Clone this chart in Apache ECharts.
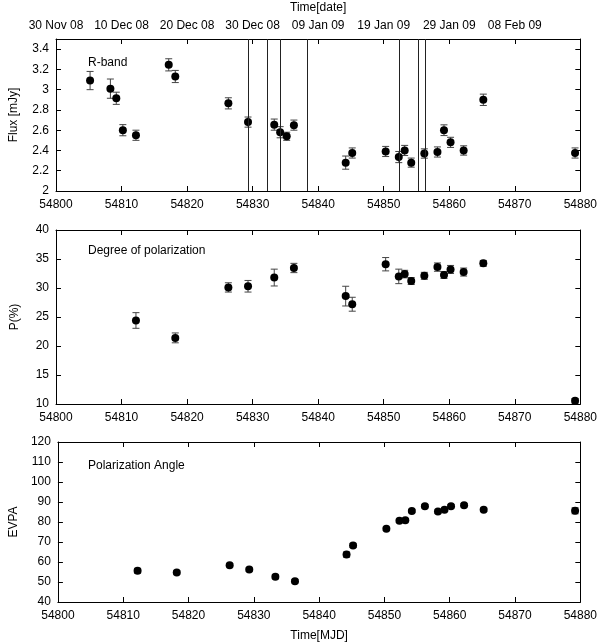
<!DOCTYPE html>
<html>
<head>
<meta charset="utf-8">
<script src="https://cdn.jsdelivr.net/npm/echarts@6/dist/echarts.min.js"></script>
<style>html,body{margin:0;padding:0;background:#fff}#c{width:600px;height:643px}</style>
</head>
<body>
<div id="c"></div>
<script>
// ---- data ----
const fluxMJD = [54805.2,54808.3,54809.2,54810.2,54812.2,54817.2,54818.2,54826.3,54829.3,54833.3,54834.2,54835.2,54836.3,54844.2,54845.2,54850.3,54852.3,54853.2,54854.2,54856.2,54858.2,54859.2,54860.2,54862.2,54865.2,54879.2];
const fluxVal = [3.09,3.01,2.915,2.60,2.55,3.245,3.13,2.865,2.68,2.655,2.58,2.54,2.65,2.28,2.375,2.39,2.335,2.40,2.28,2.37,2.385,2.60,2.48,2.40,2.90,2.375];
const fluxErr = [0.09,0.095,0.06,0.055,0.05,0.06,0.06,0.055,0.05,0.055,0.055,0.04,0.05,0.065,0.05,0.05,0.055,0.05,0.045,0.046,0.05,0.053,0.05,0.046,0.056,0.05];
const vLines = [54829.3,54832.3,54834.2,54838.4,54852.3,54855.3,54856.3];
const polMJD = [54812.2,54818.2,54826.3,54829.3,54833.3,54836.3,54844.2,54845.2,54850.3,54852.3,54853.2,54854.2,54856.2,54858.2,54859.2,54860.2,54862.2,54865.2,54879.2];
const polVal = [24.4,21.4,30.1,30.3,31.8,33.45,28.6,27.2,34.1,32.0,32.4,31.2,32.1,33.6,32.25,33.2,32.75,34.25,10.55];
const polErr = [1.35,0.85,0.8,1.0,1.45,0.8,1.7,1.2,1.15,1.25,0.65,0.6,0.6,0.72,0.6,0.69,0.69,0.5,0.4];
const evpaVal = [55.6,54.8,58.4,56.2,52.6,50.4,63.7,68.3,76.6,80.6,80.9,85.5,87.9,85.2,86.1,87.9,88.4,86.1,85.6];
const evpaErr = [1.2,0.8,0.8,0.8,1.0,0.8,1.3,1.0,0.8,0.8,0.8,0.8,0.8,0.8,0.8,0.8,0.8,0.8,1.5];
const mjdTicks = [54800,54810,54820,54830,54840,54850,54860,54870,54880];
const dateTicks = ['30 Nov 08','10 Dec 08','20 Dec 08','30 Dec 08','09 Jan 09','19 Jan 09','29 Jan 09','08 Feb 09',''];

// ---- build ----
const FONT = 'Liberation Sans';
const txt = {color:'#000', fontFamily:FONT, fontSize:12};
const grids = [
  {left:56, right:19, top:39, height:152},
  {left:56, right:19, top:230, height:174},
  {left:56, right:19, top:442, height:161}
];
const plain = v => String(Math.round(v));
function xAx(grid, pos, opts){
  return Object.assign({type:'value', gridIndex:grid, position:pos, min:54800, max:54880, interval:10,
    axisLine:{show:true, onZero:false, lineStyle:{color:'#000', width:1}},
    axisTick:{show:true, inside:true, length:5, lineStyle:{color:'#000'}},
    splitLine:{show:false},
    axisLabel:Object.assign({show:false, margin:6}, txt)}, opts||{});
}
function yAx(grid, pos, min, max, interval, opts){
  return Object.assign({type:'value', gridIndex:grid, position:pos, min:min, max:max, interval:interval,
    axisLine:{show:true, onZero:false, lineStyle:{color:'#000', width:1}},
    axisTick:{show:true, inside:true, length:5, lineStyle:{color:'#000'}},
    splitLine:{show:false},
    axisLabel:Object.assign({show:false, margin:7}, txt)}, opts||{});
}
const xAxes = [
  xAx(0,'bottom',{axisLabel:Object.assign({show:true, margin:8, formatter:plain}, txt)}),
  xAx(0,'top',{axisLabel:Object.assign({show:true, margin:7, formatter:v=>dateTicks[mjdTicks.indexOf(Math.round(v))]||''}, txt),
     name:'Time[date]', nameLocation:'middle', nameGap:25, nameTextStyle:txt}),
  xAx(1,'bottom',{axisLabel:Object.assign({show:true, margin:8, formatter:plain}, txt)}),
  xAx(1,'top'),
  xAx(2,'bottom',{axisLabel:Object.assign({show:true, margin:8, formatter:plain}, txt), name:'Time[MJD]', nameLocation:'middle', nameGap:28, nameTextStyle:txt}),
  xAx(2,'top')
];
const yAxes = [
  yAx(0,'left',2,3.5,0.2,{axisLabel:Object.assign({show:true, margin:7, showMaxLabel:false}, txt), name:'Flux [mJy]', nameLocation:'middle', nameGap:36, nameTextStyle:txt}),
  yAx(0,'right',2,3.5,0.2),
  yAx(1,'left',10,40,5,{axisLabel:Object.assign({show:true, margin:7}, txt), name:'P(%)', nameLocation:'middle', nameGap:35, nameTextStyle:txt}),
  yAx(1,'right',10,40,5),
  yAx(2,'left',40,120,10,{axisLabel:Object.assign({show:true, margin:7}, txt), name:'EVPA', nameLocation:'middle', nameGap:35, nameTextStyle:txt}),
  yAx(2,'right',40,120,10)
];
function errData(xs, vs, es){ return xs.map((x,i)=>[x, vs[i]-es[i], vs[i]+es[i]]); }
function errRender(params, api){
  const x = api.value(0);
  const a = api.coord([x, api.value(2)]);
  const b = api.coord([x, api.value(1)]);
  const w = 3.5;
  const st = {stroke:'#444', lineWidth:1};
  return {type:'group', children:[
    {type:'line', shape:{x1:a[0], y1:a[1], x2:b[0], y2:b[1]}, style:st},
    {type:'line', shape:{x1:a[0]-w, y1:a[1], x2:a[0]+w, y2:a[1]}, style:st},
    {type:'line', shape:{x1:b[0]-w, y1:b[1], x2:b[0]+w, y2:b[1]}, style:st}
  ]};
}
function pts(xs, vs){ return xs.map((x,i)=>[x, vs[i]]); }
function scatter(xi, yi, data, extra){
  return Object.assign({type:'scatter', xAxisIndex:xi, yAxisIndex:yi, data:data, symbol:'circle', symbolSize:8,
    itemStyle:{color:'#000', opacity:1}, silent:true, z:3}, extra||{});
}
function errs(xi, yi, data){
  return {type:'custom', xAxisIndex:xi, yAxisIndex:yi, data:data, renderItem:errRender, silent:true, z:2,
    encode:{x:0, y:[1,2]}};
}
const series = [
  errs(0,0,errData(fluxMJD, fluxVal, fluxErr)),
  scatter(0,0,pts(fluxMJD, fluxVal), {markLine:{silent:true, symbol:['none','none'], label:{show:false},
    lineStyle:{color:'#222', width:1, type:'solid', opacity:1}, animation:false, data:vLines.map(v=>({xAxis:v}))}}),
  errs(2,2,errData(polMJD, polVal, polErr)),
  scatter(2,2,pts(polMJD, polVal)),
  errs(4,4,errData(polMJD, evpaVal, evpaErr)),
  scatter(4,4,pts(polMJD, evpaVal))
];
const chart = echarts.init(document.getElementById('c'), null, {renderer:'canvas'});
chart.setOption({
  animation:false,
  backgroundColor:'#fff',
  textStyle:{fontFamily:FONT},
  title:[
    {text:'R-band', left:83, top:52, textStyle:Object.assign({fontWeight:'normal'}, txt)},
    {text:'Degree of polarization', left:83, top:240, textStyle:Object.assign({fontWeight:'normal'}, txt)},
    {text:'Polarization Angle', left:83, top:455, textStyle:Object.assign({fontWeight:'normal'}, txt)}
  ],
  grid:grids,
  xAxis:xAxes,
  yAxis:yAxes,
  series:series
});
</script>
</body>
</html>
